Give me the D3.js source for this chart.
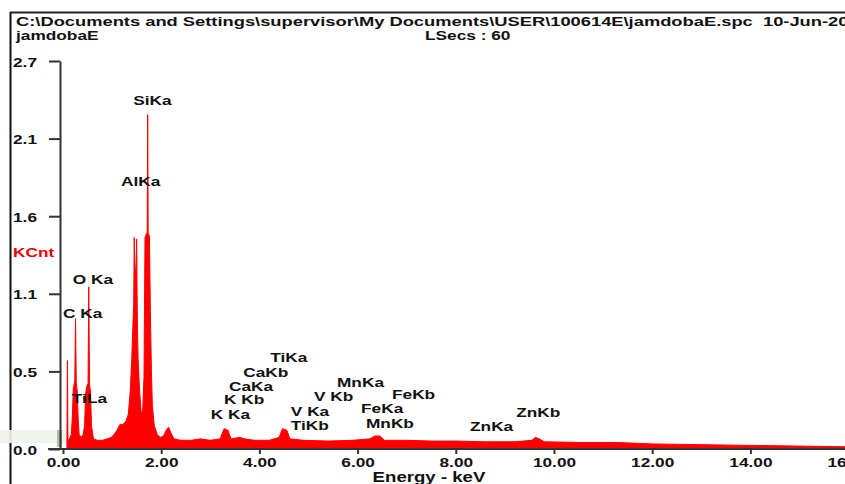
<!DOCTYPE html>
<html>
<head>
<meta charset="utf-8">
<script src="https://cdn.jsdelivr.net/npm/d3@7"></script>
<style>
  html, body { margin: 0; padding: 0; background: #fff; overflow: hidden; }
  svg { display: block; }
  text { font-family: "Liberation Sans", Arial, sans-serif; font-weight: bold; white-space: pre; }
</style>
</head>
<body>
<svg id="chart" width="845" height="484"></svg>
<script>
// EDS spectrum: energy (keV) and counts (thousands)
const energyKeV = [0.08, 0.09, 0.10, 0.13, 0.17, 0.19, 0.21, 0.24, 0.255, 0.27, 0.29, 0.31, 0.33, 0.37, 0.41, 0.44, 0.46, 0.49, 0.51, 0.525, 0.54, 0.56, 0.58, 0.62, 0.70, 0.80, 0.90, 0.98, 1.04, 1.10, 1.16, 1.22, 1.28, 1.33, 1.37, 1.40, 1.42, 1.44, 1.45, 1.47, 1.49, 1.50, 1.515, 1.53, 1.56, 1.59, 1.62, 1.65, 1.66, 1.67, 1.70, 1.715, 1.725, 1.735, 1.76, 1.78, 1.80, 1.82, 1.86, 1.92, 1.98, 2.05, 2.10, 2.15, 2.20, 2.26, 2.40, 2.60, 2.80, 3.00, 3.20, 3.28, 3.36, 3.42, 3.60, 3.70, 3.90, 4.20, 4.40, 4.47, 4.56, 4.62, 4.90, 5.40, 5.90, 6.25, 6.35, 6.45, 6.55, 7.00, 7.50, 8.00, 8.60, 9.20, 9.55, 9.62, 9.70, 9.80, 10.50, 11.30, 12.00, 13.00, 14.00, 15.00, 16.00];
const kCounts = [0.05, 0.61, 0.06, 0.07, 0.10, 0.22, 0.42, 0.47, 0.90, 0.46, 0.40, 0.20, 0.10, 0.08, 0.10, 0.16, 0.38, 0.44, 0.45, 1.12, 0.44, 0.40, 0.16, 0.07, 0.06, 0.06, 0.07, 0.08, 0.10, 0.13, 0.17, 0.17, 0.19, 0.24, 0.40, 0.62, 0.82, 1.00, 1.46, 1.20, 1.28, 1.45, 0.85, 0.62, 0.40, 0.26, 0.24, 0.50, 1.00, 1.46, 1.49, 1.49, 2.31, 1.49, 1.47, 0.95, 0.55, 0.30, 0.16, 0.10, 0.08, 0.09, 0.13, 0.15, 0.11, 0.07, 0.06, 0.06, 0.07, 0.06, 0.07, 0.14, 0.13, 0.07, 0.08, 0.07, 0.06, 0.06, 0.08, 0.14, 0.13, 0.07, 0.06, 0.055, 0.06, 0.07, 0.09, 0.09, 0.06, 0.06, 0.055, 0.055, 0.05, 0.05, 0.06, 0.08, 0.07, 0.05, 0.045, 0.045, 0.035, 0.03, 0.025, 0.02, 0.015];

// Peak identification labels, anchored in (keV, kCnt) space
const peakNames = ["SiKa", "AlKa", "O Ka", "C Ka", "TiLa", "TiKa", "CaKb", "CaKa", "K Kb", "K Ka", "V Ka", "TiKb", "V Kb", "MnKa", "FeKb", "FeKa", "MnKb", "ZnKb", "ZnKa"];
const peakLabelE = [1.43, 1.18, 0.20, 0.00, 0.18, 4.22, 3.67, 3.38, 3.28, 3.01, 4.64, 4.64, 5.11, 5.58, 6.70, 6.07, 6.17, 9.23, 8.29];
const peakLabelK = [2.41, 1.85, 1.17, 0.94, 0.35, 0.635, 0.53, 0.435, 0.34, 0.24, 0.26, 0.165, 0.365, 0.46, 0.38, 0.28, 0.18, 0.255, 0.16];

// Axes
const xTicks = [0, 2, 4, 6, 8, 10, 12, 14, 16];
const yMax = 2.68;
const yTicks = [0, 0.536, 1.072, 1.608, 2.144, 2.68];

// Header text
const headerPath = "C:\\Documents and Settings\\supervisor\\My Documents\\USER\\100614E\\jamdobaE.spc  10-Jun-2014";
const sampleName = "jamdobaE";
const liveTime = "LSecs : 60";
const yTitle = "KCnt";
const xTitle = "Energy - keV";

const SX = 1.33;   // horizontal stretch of the instrument font
const SXH = 1.41;  // header line is drawn a little wider

const svg = d3.select("#chart");
const x = d3.scaleLinear().domain([0, 16]).range([63, 848.6]);
const y = d3.scaleLinear().domain([0, yMax]).range([449, 61]);

function stretched(sel, px, py, sx = SX) {
  return sel.attr("transform", `translate(${px},${py}) scale(${sx},1)`);
}

// frame
svg.append("line").attr("x1", 10).attr("x2", 845).attr("y1", 12.5).attr("y2", 12.5)
  .attr("stroke", "#222").attr("stroke-width", 2);
svg.append("line").attr("x1", 10.5).attr("x2", 10.5).attr("y1", 12).attr("y2", 484)
  .attr("stroke", "#111").attr("stroke-width", 2);

// header
stretched(svg.append("text").text(headerPath).attr("font-size", 13).attr("fill", "#111"), 16, 26, SXH);
stretched(svg.append("text").text(sampleName).attr("font-size", 13).attr("fill", "#111"), 16, 40);
stretched(svg.append("text").text(liveTime).attr("font-size", 13).attr("fill", "#111"), 425, 40);

// spectrum
const spectrum = energyKeV.map((e, i) => ({ e, k: kCounts[i] }));
const area = d3.area()
  .x(d => x(d.e))
  .y0(y(0))
  .y1(d => y(d.k));
svg.append("path").datum(spectrum)
  .attr("d", area)
  .attr("fill", "#f00")
  .attr("stroke", "#f00")
  .attr("stroke-width", 1)
  .attr("stroke-linejoin", "round");

// pale band near the baseline at the left edge
svg.append("rect").attr("x", 0).attr("y", 430).attr("width", 66).attr("height", 13)
  .attr("fill", "#eef3ea").attr("opacity", 0.9);
svg.append("rect").attr("x", 57).attr("y", 430).attr("width", 5).attr("height", 17)
  .attr("fill", "#9fb096").attr("opacity", 0.8);

// y axis
const yAxis = svg.append("g").attr("transform", "translate(60,0)")
  .call(d3.axisLeft(y).tickValues(yTicks).tickSize(11).tickSizeOuter(0).tickFormat(d3.format(".1f")));
yAxis.select(".domain").attr("stroke", "#333").attr("stroke-width", 2);
yAxis.selectAll(".tick line").attr("stroke", "#333").attr("stroke-width", 2);
yAxis.selectAll(".tick text")
  .attr("x", 0).attr("dy", null).attr("y", 0)
  .attr("text-anchor", "start")
  .attr("font-size", 13).attr("fill", "#111")
  .attr("transform", `translate(-47,5) scale(${SX},1)`);

// x axis
const xAxis = svg.append("g").attr("transform", "translate(0,449)")
  .call(d3.axisBottom(x).tickValues(xTicks).tickSize(5).tickSizeOuter(0).tickFormat(d3.format(".2f")));
xAxis.select(".domain").attr("d", `M48,0H845`).attr("stroke", "#333").attr("stroke-width", 2);
xAxis.selectAll(".tick line").attr("stroke", "#333").attr("stroke-width", 2);
xAxis.selectAll(".tick text")
  .attr("y", 0).attr("dy", null)
  .attr("font-size", 13).attr("fill", "#111")
  .attr("transform", `translate(0,18) scale(${SX},1)`);

// axis titles
stretched(svg.append("text").text(yTitle).attr("font-size", 13).attr("fill", "#e00"), 13, 257);
stretched(svg.append("text").text(xTitle).attr("font-size", 14).attr("fill", "#111")
  .attr("text-anchor", "middle"), 429, 482);

// peak labels
svg.append("g").selectAll("text")
  .data(peakNames)
  .join("text")
  .text(d => d)
  .attr("font-size", 13)
  .attr("fill", "#111")
  .attr("dy", "0.36em")
  .attr("transform", (d, i) => `translate(${x(peakLabelE[i])},${y(peakLabelK[i])}) scale(${SX},1)`);
</script>
</body>
</html>
